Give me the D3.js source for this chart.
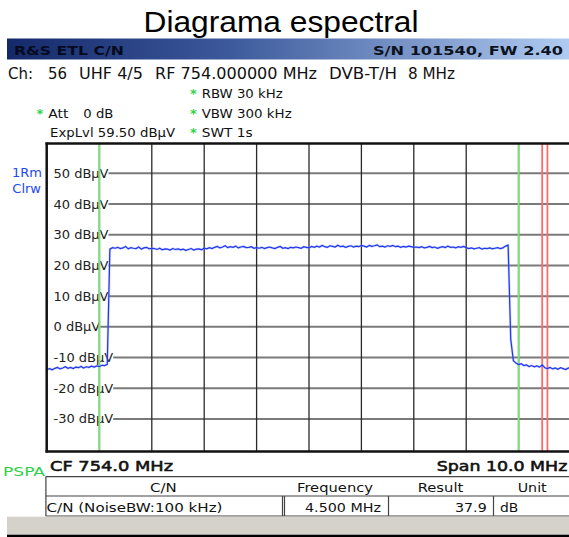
<!DOCTYPE html>
<html>
<head>
<meta charset="utf-8">
<script src="https://cdn.jsdelivr.net/npm/d3@7"></script>
<style>
  html, body { margin: 0; padding: 0; background: #fff; }
  svg { display: block; }
  text { font-family: "DejaVu Sans", Verdana, sans-serif; }
</style>
</head>
<body>
<svg id="chart" width="569" height="537"></svg>
<script>
// ---------------- data ----------------
const chartTitle = "Diagrama espectral";
const headerLeft = "R&S ETL C/N";
const headerRight = "S/N 101540, FW 2.40";
const channelParts = ["Ch:", "56", "UHF 4/5", "RF 754.000000 MHz", "DVB-T/H", "8 MHz"];
const settingsLeft = ["Att", "0 dB", "ExpLvl 59.50 dBµV"];
const settingsRight = ["RBW 30 kHz", "VBW 300 kHz", "SWT 1s"];
const traceInfo = ["1Rm", "Clrw"];
const modeLabel = "PSPA";
const centerLabel = "CF 754.0 MHz";
const spanLabel = "Span 10.0 MHz";

const freqDomain = [749, 759];        // MHz, CF 754 / span 10
const freqStep = 0.05;                // MHz between trace points
const levelDomain = [-40, 60];        // dBµV
const yTickValues = [50, 40, 30, 20, 10, 0, -10, -20, -30];
const yTickLabels = ["50 dBµV", "40 dBµV", "30 dBµV", "20 dBµV", "10 dBµV", "0 dBµV", "-10 dBµV", "-20 dBµV", "-30 dBµV"];
const gridFreqs = [750, 751, 752, 753, 754, 755, 756, 757, 758];
const bandMarkers = [750, 758];       // green lines
const noiseMarkers = [758.45, 758.55]; // red lines

const traceLevels = [
  // left noise floor
  -13.9, -13.6, -14.0, -13.5, -13.2, -13.7, -13.4, -13.0, -13.5, -13.2, -13.6, -13.1,
  -13.3, -12.9, -13.4, -13.0, -13.2, -12.8, -13.1, -12.7, -12.9, -12.5, -12.6, -12.2,
  // channel plateau
  25.3, 25.8, 25.6, 25.9, 25.5, 25.7, 26.2, 25.4, 25.8, 25.6, 25.5, 26.0, 25.3, 25.7, 25.9, 25.4, 25.6,
  25.5, 25.2, 25.6, 25.1, 25.4, 25.3, 25.0, 25.5, 25.2, 25.4, 25.1, 25.3, 24.9, 25.2, 25.5, 25.0, 25.3, 25.4, 25.1, 25.6,
  25.4, 25.8, 25.5, 25.9, 26.2, 25.7, 26.0, 26.4, 25.8, 26.1, 25.9, 26.3, 25.7, 26.0, 26.2, 25.8, 25.9, 26.1, 25.6, 25.8,
  25.6, 25.9, 25.5, 25.8, 26.0, 25.7, 25.5, 25.9, 26.2, 25.6, 25.8, 25.5, 25.9, 25.7, 26.0, 25.8, 25.6, 26.1, 25.9, 25.7,
  26.2, 25.9, 26.3, 26.0, 26.5, 26.1, 25.9, 26.4, 26.2, 26.0, 26.6, 26.1, 26.3, 25.9, 26.2, 26.4, 26.0, 26.3, 26.1, 26.5,
  26.3, 26.0, 26.5, 26.2, 26.4, 26.7, 26.1, 26.3, 26.0, 26.4, 26.2, 26.5, 26.1, 26.3, 25.9, 26.2, 26.0, 26.3, 26.1, 25.9,
  26.0, 25.8, 26.1, 25.7, 25.9, 26.2, 25.8, 26.0, 25.6, 25.9, 26.1, 25.8, 26.3, 25.9, 26.0, 25.7, 26.1, 25.9, 26.2, 25.8,
  25.5, 25.7, 25.4, 25.6, 25.8, 25.3, 25.6, 25.5, 25.7, 25.4, 25.6, 25.8, 25.5, 25.7, 26.3, 26.6,
  // falling edge
  -4.0, -11.0,
  // right noise floor
  -11.8, -12.3, -12.0, -12.6, -12.4, -12.9, -12.6, -13.0, -12.7, -13.1, -12.4, -13.3,
  -13.6, -13.2, -13.7, -13.4, -13.8, -13.3, -13.6, -13.9, -13.4, -13.7
];

const tableHeaders = ["C/N", "Frequency", "Result", "Unit"];
const tableRow = ["C/N (NoiseBW:100 kHz)", "4.500 MHz", "37.9", "dB"];

// ---------------- drawing ----------------
const svg = d3.select("#chart");

const plot = { left: 47, right: 569, top: 143.5, bottom: 451 };
const x = d3.scaleLinear().domain(freqDomain).range([47, 571]);
const y = d3.scaleLinear().domain(levelDomain).range([449.7, 142.6]);

function txt(str, xp, yp, opts = {}) {
  const t = svg.append("text")
    .attr("x", xp).attr("y", yp)
    .attr("font-size", opts.size || 13)
    .attr("fill", opts.fill || "#1a1a1a")
    .attr("font-weight", opts.weight || "normal")
    .attr("text-anchor", opts.anchor || "start")
    .text(str);
  if (opts.family) t.style("font-family", opts.family);
  if (opts.stroke) t.attr("stroke", opts.fill || "#1a1a1a").attr("stroke-width", opts.stroke);
  if (opts.len) t.attr("textLength", opts.len).attr("lengthAdjust", "spacingAndGlyphs");
  return t;
}

// Title
txt(chartTitle, 143.5, 32, { size: 29, family: "'Liberation Sans', Arial, sans-serif", fill: "#000", len: 275 });

// Header bar with gradient
const defs = svg.append("defs");
const grad = defs.append("linearGradient").attr("id", "hdr").attr("x1", "0%").attr("x2", "100%");
grad.append("stop").attr("offset", "0%").attr("stop-color", "#14296a");
grad.append("stop").attr("offset", "40%").attr("stop-color", "#3d5a9c");
grad.append("stop").attr("offset", "100%").attr("stop-color", "#b0cbf0");
svg.append("rect").attr("x", 7).attr("y", 38.5).attr("width", 562).attr("height", 21).attr("fill", "url(#hdr)");
txt(headerLeft, 14, 55, { size: 13, weight: "bold", fill: "#050a1e", len: 110 });
txt(headerRight, 373, 55, { size: 13, weight: "bold", fill: "#0c1220", len: 190 });

// Channel line
const chX = [8, 48, 79, 155, 329, 408];
const chL = [25, 19, 64, 162, 68, 47];
channelParts.forEach((s, i) => txt(s, chX[i], 78.5, { size: 15, fill: "#111", len: chL[i] }));

// Settings
const green = "#2fd14a";
[[190, 98], [190, 118.3], [190, 136.7], [36.5, 118.3]].forEach(p =>
  txt("*", p[0], p[1], { size: 13, weight: "bold", fill: green }));
txt(settingsRight[0], 201.7, 98, { size: 13, fill: "#111", len: 81 });
txt(settingsRight[1], 201.7, 118.3, { size: 13, fill: "#111", len: 90 });
txt(settingsRight[2], 201.7, 136.7, { size: 13, fill: "#111", len: 51 });
txt(settingsLeft[0], 48.3, 118.3, { size: 13, fill: "#111", len: 20 });
txt(settingsLeft[1], 83.3, 118.3, { size: 13, fill: "#111", len: 30 });
txt(settingsLeft[2], 50, 136.7, { size: 13, fill: "#111", len: 125 });

// Trace info (blue)
txt(traceInfo[0], 42, 176.7, { size: 13, fill: "#2448f5", anchor: "end" });
txt(traceInfo[1], 41, 193.3, { size: 13, fill: "#2448f5", anchor: "end" });

// Y labels + horizontal grid
const labelG = svg.append("g");
const hGrid = svg.insert("g", ":first-child");
yTickValues.forEach((v, i) => {
  const yy = y(v);
  const t = labelG.append("text")
    .attr("x", 53.5).attr("y", yy + 4.5)
    .attr("font-size", 13).attr("fill", "#222")
    .text(yTickLabels[i]);
  const w = t.node().getComputedTextLength();
  hGrid.append("line")
    .attr("x1", 53.5 + w).attr("x2", plot.right)
    .attr("y1", yy).attr("y2", yy)
    .attr("stroke", "#7a7a7a").attr("stroke-width", 2);
});

// Vertical grid
svg.append("g").selectAll("line").data(gridFreqs).join("line")
  .attr("x1", d => x(d)).attr("x2", d => x(d))
  .attr("y1", plot.top).attr("y2", plot.bottom)
  .attr("stroke", "#2a2a2a").attr("stroke-width", 1.3);

// Markers
svg.append("g").selectAll("line").data(bandMarkers).join("line")
  .attr("x1", d => x(d)).attr("x2", d => x(d))
  .attr("y1", plot.top).attr("y2", plot.bottom)
  .attr("stroke", "#7de07d").attr("stroke-width", 2);
svg.append("g").selectAll("line").data(noiseMarkers).join("line")
  .attr("x1", d => x(d)).attr("x2", d => x(d))
  .attr("y1", plot.top).attr("y2", plot.bottom)
  .attr("stroke", "#ff6a6a").attr("stroke-width", 1.8);

// Trace
defs.append("clipPath").attr("id", "plotclip").append("rect")
  .attr("x", plot.left).attr("y", plot.top).attr("width", plot.right - plot.left).attr("height", plot.bottom - plot.top);
const line = d3.line().x((d, i) => x(freqDomain[0] + i * freqStep)).y(d => y(d));
svg.append("path").datum(traceLevels)
  .attr("clip-path", "url(#plotclip)")
  .attr("d", line)
  .attr("fill", "none").attr("stroke", "#8fa0ff").attr("stroke-width", 2.4).attr("opacity", 0.45);
svg.append("path").datum(traceLevels)
  .attr("clip-path", "url(#plotclip)")
  .attr("d", line)
  .attr("fill", "none").attr("stroke", "#1f35f0").attr("stroke-width", 1.2);

// Frame
svg.append("line").attr("x1", 45.5).attr("x2", plot.right).attr("y1", 143.5).attr("y2", 143.5).attr("stroke", "#111").attr("stroke-width", 2.5);
svg.append("line").attr("x1", 46.7).attr("x2", 46.7).attr("y1", 142.5).attr("y2", 452.5).attr("stroke", "#111").attr("stroke-width", 2.5);
svg.append("line").attr("x1", 45.5).attr("x2", plot.right).attr("y1", 451.5).attr("y2", 451.5).attr("stroke", "#111").attr("stroke-width", 2.5);

// Bottom labels
txt(modeLabel, 3, 476, { size: 12, fill: green, len: 42 });
txt(centerLabel, 50, 470.7, { size: 14, fill: "#111", stroke: 0.55, len: 123 });
txt(spanLabel, 436.7, 470.7, { size: 14, fill: "#111", stroke: 0.55, len: 130.6 });

// Table
const tl = "#444";
svg.append("line").attr("x1", 45.7).attr("x2", 569).attr("y1", 476.7).attr("y2", 476.7).attr("stroke", tl).attr("stroke-width", 1.2);
svg.append("line").attr("x1", 45.7).attr("x2", 569).attr("y1", 496).attr("y2", 496).attr("stroke", tl).attr("stroke-width", 1.2);
svg.append("line").attr("x1", 45.7).attr("x2", 569).attr("y1", 516).attr("y2", 516).attr("stroke", tl).attr("stroke-width", 1.2);
svg.append("line").attr("x1", 45.9).attr("x2", 45.9).attr("y1", 476.7).attr("y2", 516).attr("stroke", tl).attr("stroke-width", 1.2);
[282.5, 284.5, 388.5, 493.5].forEach(xx =>
  svg.append("line").attr("x1", xx).attr("x2", xx).attr("y1", 496).attr("y2", 516).attr("stroke", tl).attr("stroke-width", 1.2));

const hdrX = [150, 297, 417.7, 517.7];
const hdrL = [26.7, 76, 45.6, 29];
tableHeaders.forEach((s, i) => txt(s, hdrX[i], 492.3, { size: 12.5, fill: "#111", len: hdrL[i] }));
txt(tableRow[0], 46.5, 512.3, { size: 12.5, fill: "#111", len: 176 });
txt(tableRow[1], 305, 512.3, { size: 12.5, fill: "#111", len: 76 });
txt(tableRow[2], 455, 512.3, { size: 12.5, fill: "#111", len: 31.7 });
txt(tableRow[3], 500, 512.3, { size: 12.5, fill: "#111", len: 18.3 });

// Gray status bar + black bottom line
svg.append("rect").attr("x", 7).attr("y", 516.7).attr("width", 562).attr("height", 18).attr("fill", "#d5d2cc");
svg.append("rect").attr("x", 7).attr("y", 534.7).attr("width", 562).attr("height", 2.3).attr("fill", "#000");
</script>
</body>
</html>
